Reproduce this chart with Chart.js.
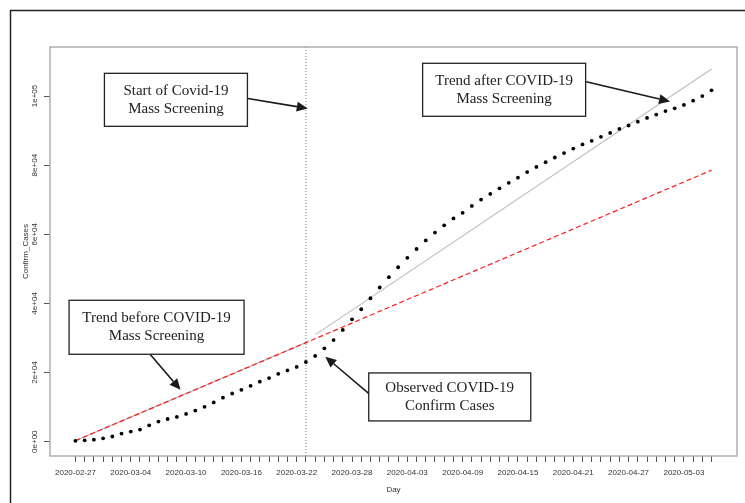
<!DOCTYPE html>
<html>
<head>
<meta charset="utf-8">
<script src="https://cdn.jsdelivr.net/npm/chart.js@4/dist/chart.umd.min.js"></script>
<style>
  html, body { margin: 0; padding: 0; background: #fff; }
  #wrap { width: 745px; height: 503px; position: relative; }
</style>
</head>
<body>
<div id="wrap"><canvas id="c" width="745" height="503"></canvas></div>
<script>
// Daily dates (x categories, one per day)
const dates = [
  '2020-02-27','2020-02-28','2020-02-29','2020-03-01','2020-03-02','2020-03-03','2020-03-04','2020-03-05',
  '2020-03-06','2020-03-07','2020-03-08','2020-03-09','2020-03-10','2020-03-11','2020-03-12','2020-03-13',
  '2020-03-14','2020-03-15','2020-03-16','2020-03-17','2020-03-18','2020-03-19','2020-03-20','2020-03-21',
  '2020-03-22','2020-03-23','2020-03-24','2020-03-25','2020-03-26','2020-03-27','2020-03-28','2020-03-29',
  '2020-03-30','2020-03-31','2020-04-01','2020-04-02','2020-04-03','2020-04-04','2020-04-05','2020-04-06',
  '2020-04-07','2020-04-08','2020-04-09','2020-04-10','2020-04-11','2020-04-12','2020-04-13','2020-04-14',
  '2020-04-15','2020-04-16','2020-04-17','2020-04-18','2020-04-19','2020-04-20','2020-04-21','2020-04-22',
  '2020-04-23','2020-04-24','2020-04-25','2020-04-26','2020-04-27','2020-04-28','2020-04-29','2020-04-30',
  '2020-05-01','2020-05-02','2020-05-03','2020-05-04','2020-05-05','2020-05-06'
];

// Dates that get a printed label on the x axis
const tickLabels = ['2020-02-27','2020-03-04','2020-03-10','2020-03-16','2020-03-22','2020-03-28',
  '2020-04-03','2020-04-09','2020-04-15','2020-04-21','2020-04-27','2020-05-03'];

// Cumulative confirmed cases, one per date
const confirmed = [
  245, 388, 593, 978, 1501, 2336, 2922, 3513, 4747, 5823, 6566, 7161, 8042, 9000, 10075, 11364,
  12729, 13938, 14991, 16169, 17361, 18407, 19644, 20610, 21638, 23049, 24811, 27017, 29406, 32332,
  35408, 38309, 41495, 44605, 47593, 50468, 53183, 55743, 58226, 60500, 62589, 64586, 66220, 68192,
  70029, 71686, 73303, 74877, 76389, 77995, 79494, 80868, 82211, 83505, 84802, 85996, 87026, 88194,
  89328, 90481, 91472, 92584, 93657, 94640, 95646, 96448, 97424, 98647, 99970, 101650
];

// Y axis ticks and their printed labels
const yTicks = [0, 20000, 40000, 60000, 80000, 100000];
const yTickLabels = ['0e+00', '2e+04', '4e+04', '6e+04', '8e+04', '1e+05'];

// Fitted trends: endpoints as [day index], [cases]
const trendBeforeDays = [0, 25];
const trendBeforeCases = [300, 28650];
const projectionDays = [0, 69];
const projectionCases = [300, 78550];
const trendAfterDays = [26, 69];
const trendAfterCases = [30900, 107800];

// Day index at which mass screening started
const screeningStartDay = 25;

// Axis extents (R-style 4% padding around the data)
const xMin = -2.76, xMax = 71.76;
const yMin = -4140, yMax = 114180;

// Callout boxes: text, centre (day, cases), arrow start and tip (day, cases)
const noteLines = [
  ['Start of Covid-19', 'Mass Screening'],
  ['Trend after COVID-19', 'Mass Screening'],
  ['Trend before COVID-19', 'Mass Screening'],
  ['Observed COVID-19', 'Confirm Cases']
];
const noteCentre = [[10.9, 98900], [46.5, 101800], [8.8, 33100], [40.6, 12950]];
const noteSize = [[143, 53], [163, 53], [175, 54], [162, 48]];
const arrowFrom = [[18.7, 99300], [55.4, 104100], [8.1, 25300], [31.8, 14000]];
const arrowTo = [[25.2, 96400], [64.5, 98400], [11.4, 15000], [27.1, 24600]];

const pts = (xs, ys) => xs.map((x, i) => ({ x: x, y: ys[i] }));

function drawArrow(ctx, x1, y1, x2, y2) {
  const ang = Math.atan2(y2 - y1, x2 - x1);
  const len = 11, half = 5;
  const bx = x2 - len * Math.cos(ang), by = y2 - len * Math.sin(ang);
  ctx.beginPath();
  ctx.moveTo(x1, y1);
  ctx.lineTo(bx, by);
  ctx.stroke();
  ctx.beginPath();
  ctx.moveTo(x2, y2);
  ctx.lineTo(bx + half * Math.sin(ang), by - half * Math.cos(ang));
  ctx.lineTo(bx - half * Math.sin(ang), by + half * Math.cos(ang));
  ctx.closePath();
  ctx.fill();
}

const decorations = {
  id: 'decorations',
  afterDraw(chart) {
    const ctx = chart.ctx;
    const a = chart.chartArea;
    const xs = chart.scales.x, ys = chart.scales.y;
    ctx.save();

    // page frame
    ctx.strokeStyle = '#222';
    ctx.lineWidth = 1.5;
    ctx.beginPath();
    ctx.moveTo(10.5, 503);
    ctx.lineTo(10.5, 10.5);
    ctx.lineTo(745, 10.5);
    ctx.stroke();

    // plot box
    ctx.strokeStyle = '#a8a8a8';
    ctx.lineWidth = 1.4;
    ctx.strokeRect(a.left, a.top, a.right - a.left, a.bottom - a.top);

    // rotated y tick labels
    ctx.fillStyle = '#333';
    ctx.font = '8px "Liberation Sans", Arial, sans-serif';
    ctx.textAlign = 'center';
    ctx.textBaseline = 'middle';
    yTicks.forEach((v, i) => {
      ctx.save();
      ctx.translate(35, ys.getPixelForValue(v));
      ctx.rotate(-Math.PI / 2);
      ctx.fillText(yTickLabels[i], 0, 0);
      ctx.restore();
    });

    // axis titles
    ctx.save();
    ctx.translate(26, (a.top + a.bottom) / 2);
    ctx.rotate(-Math.PI / 2);
    ctx.fillText('Confirm_Cases', 0, 0);
    ctx.restore();
    ctx.fillText('Day', (a.left + a.right) / 2, 490);

    // callouts
    ctx.font = '15px "Liberation Serif", "Times New Roman", serif';
    noteLines.forEach((lines, i) => {
      const cx = xs.getPixelForValue(noteCentre[i][0]);
      const cy = ys.getPixelForValue(noteCentre[i][1]);
      const w = noteSize[i][0], h = noteSize[i][1];
      ctx.fillStyle = '#fff';
      ctx.fillRect(cx - w / 2, cy - h / 2, w, h);
      ctx.strokeStyle = '#222';
      ctx.lineWidth = 1.3;
      ctx.strokeRect(cx - w / 2, cy - h / 2, w, h);
      ctx.fillStyle = '#222';
      ctx.fillText(lines[0], cx, cy - 9);
      ctx.fillText(lines[1], cx, cy + 9);

      ctx.strokeStyle = '#1a1a1a';
      ctx.fillStyle = '#1a1a1a';
      ctx.lineWidth = 1.6;
      drawArrow(ctx,
        xs.getPixelForValue(arrowFrom[i][0]), ys.getPixelForValue(arrowFrom[i][1]),
        xs.getPixelForValue(arrowTo[i][0]), ys.getPixelForValue(arrowTo[i][1]));
    });
    ctx.restore();
  }
};

new Chart(document.getElementById('c'), {
  type: 'scatter',
  data: {
    datasets: [
      {
        label: 'Observed',
        data: pts(dates.map((d, i) => i), confirmed),
        pointRadius: 1.9,
        pointBackgroundColor: '#000',
        pointBorderWidth: 0,
        showLine: false
      },
      {
        label: 'Projected trend',
        data: pts(projectionDays, projectionCases),
        showLine: true,
        borderColor: '#ff1a1a',
        borderWidth: 1.2,
        borderDash: [5, 3],
        pointRadius: 0
      },
      {
        label: 'Trend before',
        data: pts(trendBeforeDays, trendBeforeCases),
        showLine: true,
        borderColor: '#bdbdbd',
        borderWidth: 1.2,
        pointRadius: 0
      },
      {
        label: 'Trend after',
        data: pts(trendAfterDays, trendAfterCases),
        showLine: true,
        borderColor: '#bdbdbd',
        borderWidth: 1.2,
        pointRadius: 0
      },
      {
        label: 'Screening start',
        data: [{ x: screeningStartDay, y: yMin }, { x: screeningStartDay, y: yMax }],
        showLine: true,
        borderColor: '#777',
        borderWidth: 1,
        borderDash: [1, 2],
        pointRadius: 0
      }
    ]
  },
  options: {
    responsive: false,
    animation: false,
    devicePixelRatio: 1,
    layout: { padding: { top: 47, right: 8, left: 0, bottom: 0 } },
    plugins: { legend: { display: false }, tooltip: { enabled: false } },
    scales: {
      x: {
        type: 'linear',
        min: xMin,
        max: xMax,
        afterBuildTicks: s => { s.ticks = dates.map((d, i) => ({ value: i })); },
        afterFit: s => { s.height = 47; },
        ticks: {
          autoSkip: false,
          minRotation: 0,
          maxRotation: 0,
          padding: 6,
          color: '#333',
          font: { size: 8, family: '"Liberation Sans", Arial, sans-serif' },
          callback: v => (tickLabels.includes(dates[v]) ? dates[v] : '')
        },
        grid: { drawOnChartArea: false, drawTicks: true, tickLength: 6, color: '#555', lineWidth: 1 },
        border: { display: false }
      },
      y: {
        type: 'linear',
        min: yMin,
        max: yMax,
        afterBuildTicks: s => { s.ticks = yTicks.map(v => ({ value: v })); },
        afterFit: s => { s.width = 50; },
        ticks: { display: false },
        grid: { drawOnChartArea: false, drawTicks: true, tickLength: 6, color: '#555', lineWidth: 1 },
        border: { display: false }
      }
    }
  },
  plugins: [decorations]
});
</script>
</body>
</html>
